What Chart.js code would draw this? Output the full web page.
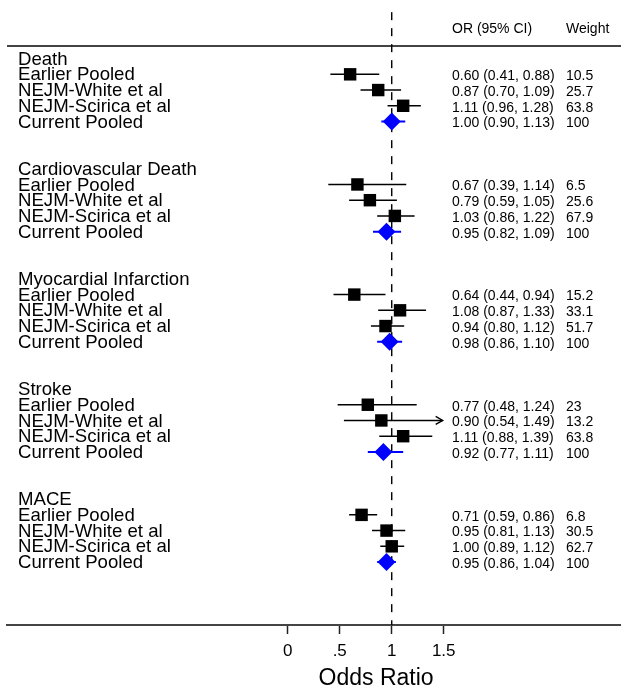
<!DOCTYPE html>
<html>
<head>
<meta charset="utf-8">
<script src="https://cdn.jsdelivr.net/npm/chart.js@4.4.0/dist/chart.umd.min.js"></script>
<style>
    html, body { margin: 0; padding: 0; background: #fff; }
    #wrap { width: 621px; height: 690px; }
</style>
</head>
<body>
<div id="wrap"><canvas id="forest"></canvas></div>
<script>
const outcomes = ['Death', 'Cardiovascular Death', 'Myocardial Infarction', 'Stroke', 'MACE'];
const studies = ['Earlier Pooled', 'NEJM-White et al', 'NEJM-Scirica et al', 'Current Pooled'];

// one inner array per outcome, in the order of `studies`
const oddsRatio = [
    [0.60, 0.87, 1.11, 1.00],
    [0.67, 0.79, 1.03, 0.95],
    [0.64, 1.08, 0.94, 0.98],
    [0.77, 0.90, 1.11, 0.92],
    [0.71, 0.95, 1.00, 0.95]
];
const ciLower = [
    [0.41, 0.70, 0.96, 0.90],
    [0.39, 0.59, 0.86, 0.82],
    [0.44, 0.87, 0.80, 0.86],
    [0.48, 0.54, 0.88, 0.77],
    [0.59, 0.81, 0.89, 0.86]
];
const ciUpper = [
    [0.88, 1.09, 1.28, 1.13],
    [1.14, 1.05, 1.22, 1.09],
    [0.94, 1.33, 1.12, 1.10],
    [1.24, 1.49, 1.39, 1.11],
    [0.86, 1.13, 1.12, 1.04]
];
const weights = [
    [10.5, 25.7, 63.8, 100],
    [6.5, 25.6, 67.9, 100],
    [15.2, 33.1, 51.7, 100],
    [23, 13.2, 63.8, 100],
    [6.8, 30.5, 62.7, 100]
];
const tickValues = [0, 0.5, 1, 1.5];
const tickLabels = ['0', '.5', '1', '1.5'];
const nullValue = 1;
const arrowClip = 1.45; // CIs running past this get an arrow head

const ROWS_PER_GROUP = 7; // header + 4 studies + 2 blank rows
const POOLED = studies.length - 1;

function rowOf(g, s) {
    return g * ROWS_PER_GROUP + 1 + s;
}

// build the marks from the arrays
const squares = [], diamonds = [], blackCI = [], blueCI = [], arrows = [];
outcomes.forEach((name, g) => {
    studies.forEach((st, s) => {
        const r = rowOf(g, s);
        const pt = { x: oddsRatio[g][s], y: r };
        const seg = [{ x: ciLower[g][s], y: r }, { x: ciUpper[g][s], y: r }, { x: null, y: null }];
        if (s === POOLED) {
            diamonds.push(pt);
            blueCI.push(...seg);
        } else {
            squares.push(pt);
            blackCI.push(...seg);
        }
        if (ciUpper[g][s] > arrowClip) arrows.push({ x: ciUpper[g][s], y: r });
    });
});

const FONT = '"Liberation Sans", Arial, Helvetica, sans-serif';

const forestText = {
    id: 'forestText',
    beforeDatasetsDraw(chart) {
        const { ctx, chartArea } = chart;
        ctx.save();
        ctx.strokeStyle = '#444';
        ctx.lineWidth = 2;
        ctx.beginPath();
        ctx.moveTo(chartArea.left, chartArea.top);
        ctx.lineTo(chartArea.right, chartArea.top);
        ctx.stroke();
        ctx.restore();
    },
    afterDatasetsDraw(chart) {
        const { ctx } = chart;
        const xs = chart.scales.x, ys = chart.scales.y;
        ctx.save();
        ctx.strokeStyle = '#000';
        ctx.lineWidth = 1.4;
        arrows.forEach(a => {
            const px = xs.getPixelForValue(a.x), py = ys.getPixelForValue(a.y);
            ctx.beginPath();
            ctx.moveTo(px - 7, py - 4);
            ctx.lineTo(px, py);
            ctx.lineTo(px - 7, py + 4);
            ctx.stroke();
        });
        ctx.restore();
    },
    afterDraw(chart) {
        const { ctx, chartArea } = chart;
        const xs = chart.scales.x, ys = chart.scales.y;
        const labelX = chartArea.left + 11;
        const orX = 452, wX = 566;

        ctx.save();
        ctx.fillStyle = '#000';
        ctx.textBaseline = 'middle';
        ctx.textAlign = 'left';

        ctx.font = '14px ' + FONT;
        ctx.fillText('OR (95% CI)', orX, chartArea.top - 17);
        ctx.fillText('Weight', wX, chartArea.top - 17);

        outcomes.forEach((name, g) => {
            ctx.font = '18.6px ' + FONT;
            ctx.fillText(name, labelX, ys.getPixelForValue(g * ROWS_PER_GROUP) + 1);
            studies.forEach((st, s) => {
                const py = ys.getPixelForValue(rowOf(g, s)) + 1;
                ctx.font = '18.6px ' + FONT;
                ctx.fillText(st, labelX, py);
                ctx.font = '14px ' + FONT;
                const txt = oddsRatio[g][s].toFixed(2) + ' (' + ciLower[g][s].toFixed(2) + ', ' + ciUpper[g][s].toFixed(2) + ')';
                ctx.fillText(txt, orX, py + 1);
                ctx.fillText(String(weights[g][s]), wX, py + 1);
            });
        });

        ctx.font = '23px ' + FONT;
        ctx.textAlign = 'center';
        ctx.fillText('Odds Ratio', xs.getPixelForValue(0.85), 679);
        ctx.restore();
    }
};

new Chart(document.getElementById('forest'), {
    type: 'scatter',
    data: {
        datasets: [
            {
                data: squares,
                pointStyle: 'rect',
                pointRadius: 8.8,
                backgroundColor: '#000',
                borderWidth: 0,
                order: 1
            },
            {
                data: diamonds,
                pointStyle: 'rectRot',
                pointRadius: 9,
                backgroundColor: '#0000ff',
                borderWidth: 0,
                order: 1
            },
            {
                data: blackCI,
                showLine: true,
                spanGaps: false,
                pointRadius: 0,
                borderColor: '#000',
                borderWidth: 1.5,
                order: 2
            },
            {
                data: blueCI,
                showLine: true,
                spanGaps: false,
                pointRadius: 0,
                borderColor: '#0000ff',
                borderWidth: 2,
                order: 2
            },
            {
                // reference line at OR = 1
                data: [{ x: nullValue, y: -2.95 }, { x: nullValue, y: 36 }],
                showLine: true,
                pointRadius: 0,
                borderColor: '#000',
                borderWidth: 1.4,
                borderDash: [8, 8],
                clip: false,
                order: 3
            }
        ]
    },
    options: {
        responsive: true,
        maintainAspectRatio: false,
        animation: false,
        events: [],
        layout: { autoPadding: false, padding: { left: 7, right: 0, top: 46, bottom: 0 } },
        plugins: {
            legend: { display: false },
            tooltip: { enabled: false }
        },
        scales: {
            x: {
                type: 'linear',
                min: -2.7,
                max: 3.205,
                afterBuildTicks: s => { s.ticks = tickValues.map(v => ({ value: v })); },
                afterFit: s => { s.height = 65; },
                ticks: {
                    autoSkip: false,
                    maxRotation: 0,
                    padding: 7,
                    color: '#000',
                    font: { family: FONT, size: 17, lineHeight: 1.2 },
                    callback: (v) => tickLabels[tickValues.indexOf(v)]
                },
                grid: {
                    drawOnChartArea: false,
                    drawTicks: true,
                    tickLength: 9,
                    tickWidth: 1.5,
                    tickColor: '#222'
                },
                border: { display: true, color: '#444', width: 2 }
            },
            y: {
                type: 'linear',
                display: false,
                reverse: true,
                min: -0.8,
                max: 36
            }
        }
    },
    plugins: [forestText]
});
</script>
</body>
</html>
